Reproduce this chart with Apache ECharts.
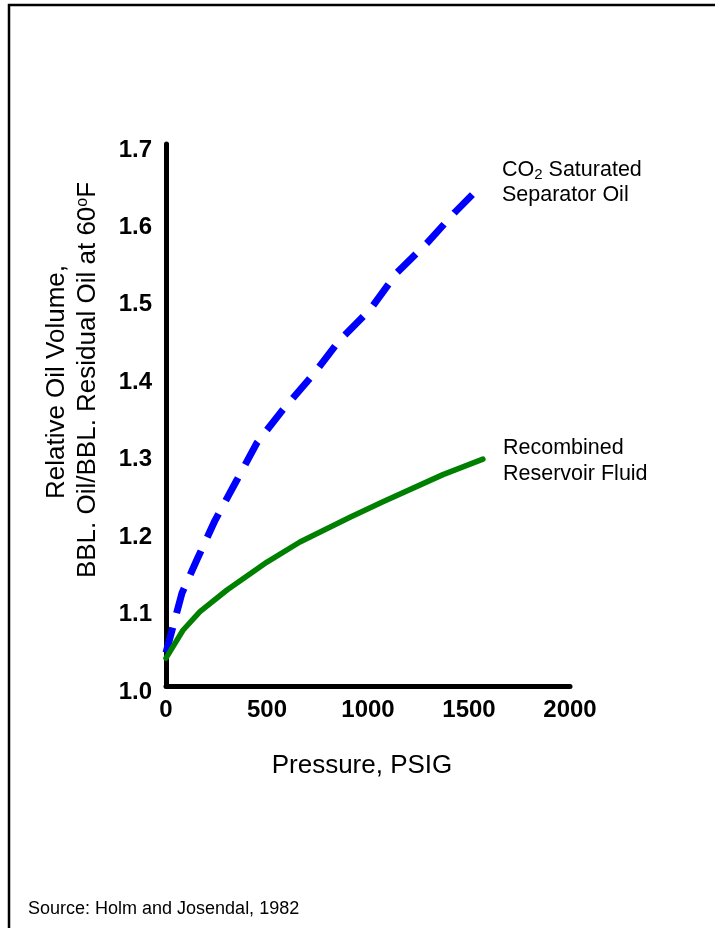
<!DOCTYPE html>
<html>
<head>
<meta charset="utf-8">
<title>Relative Oil Volume vs Pressure</title>
<script src="https://cdn.jsdelivr.net/npm/echarts@6/dist/echarts.min.js"></script>
<style>
  html, body { margin: 0; padding: 0; background: #fff; }
  #chart { width: 715px; height: 928px; }
</style>
</head>
<body>
<div id="chart"></div>
<script>
// values (pressure in psig, relative oil volume)
const co2Pressure = [0, 79, 153, 243, 351, 450, 579, 728, 861, 1010, 1144, 1292, 1431, 1545];
const co2Volume = [1.043, 1.120, 1.163, 1.214, 1.266, 1.314, 1.357, 1.402, 1.447, 1.486, 1.534, 1.572, 1.612, 1.642];

const recPressure = [0, 84, 168, 302, 500, 663, 911, 1074, 1371, 1569];
const recVolume = [1.036, 1.072, 1.096, 1.124, 1.160, 1.186, 1.218, 1.238, 1.273, 1.293];

const xTicks = [0, 500, 1000, 1500, 2000];
const yTicks = [1.0, 1.1, 1.2, 1.3, 1.4, 1.5, 1.6, 1.7];

const FONT = 'Arial, "Liberation Sans", sans-serif';

const chart = echarts.init(document.getElementById('chart'));

const pairs = (xs, ys) => xs.map((x, i) => [x, ys[i]]);

const option = {
  backgroundColor: '#fff',
  animation: false,
  grid: { left: 166, right: 145, top: 144, bottom: 242 },
  xAxis: {
    type: 'value',
    min: xTicks[0],
    max: xTicks[xTicks.length - 1],
    interval: 500,
    axisLine: { onZero: false, lineStyle: { color: '#000', width: 5, cap: 'round' } },
    axisTick: { show: false },
    splitLine: { show: false },
    axisLabel: {
      margin: 12,
      color: '#000',
      fontFamily: FONT,
      fontWeight: 'bold',
      fontSize: 24,
      formatter: (v) => String(v)
    }
  },
  yAxis: {
    type: 'value',
    min: yTicks[0],
    max: yTicks[yTicks.length - 1],
    interval: 0.1,
    axisLine: { show: true, lineStyle: { color: '#000', width: 5, cap: 'round' } },
    axisTick: { show: false },
    splitLine: { show: false },
    axisLabel: {
      margin: 14,
      // labels sit a little below their tick in the original
      verticalAlign: 'top',
      lineHeight: 12,
      color: '#000',
      fontFamily: FONT,
      fontWeight: 'bold',
      fontSize: 24,
      formatter: (v) => v.toFixed(1)
    }
  },
  series: [
    {
      name: 'CO2 Saturated Separator Oil',
      type: 'line',
      data: pairs(co2Pressure, co2Volume),
      showSymbol: false,
      lineStyle: { color: '#0000ff', width: 7, type: [26, 15], cap: 'butt' },
      z: 3
    },
    {
      name: 'Recombined Reservoir Fluid',
      type: 'line',
      data: pairs(recPressure, recVolume),
      showSymbol: false,
      lineStyle: { color: '#008000', width: 5.5, cap: 'round', join: 'round' },
      z: 4
    }
  ],
  graphic: [
    // frame
    {
      type: 'rect',
      shape: { x: 9, y: 5, width: 730, height: 950 },
      style: { fill: 'none', stroke: '#000', lineWidth: 2.5 },
      silent: true
    },
    // y title, two lines
    {
      type: 'text',
      x: 57, y: 382,
      rotation: Math.PI / 2,
      style: {
        text: 'Relative Oil Volume,',
        fill: '#000',
        font: '26px ' + FONT,
        align: 'center',
        verticalAlign: 'middle'
      }
    },
    {
      type: 'text',
      x: 88, y: 380,
      rotation: Math.PI / 2,
      style: {
        text: 'BBL. Oil/BBL. Residual Oil at 60{sup|o}F',
        fill: '#000',
        font: '26px ' + FONT,
        align: 'center',
        verticalAlign: 'middle',
        rich: {
          sup: { fontSize: 16, fontFamily: FONT, verticalAlign: 'top', padding: [0, 0, 10, 0] }
        }
      }
    },
    // x title
    {
      type: 'text',
      x: 362, y: 766,
      style: {
        text: 'Pressure, PSIG',
        fill: '#000',
        font: '26px ' + FONT,
        align: 'center',
        verticalAlign: 'middle'
      }
    },
    // curve labels
    {
      type: 'text',
      x: 502, y: 170,
      style: {
        text: 'CO{sub|2} Saturated',
        fill: '#000',
        font: '21.5px ' + FONT,
        align: 'left',
        verticalAlign: 'middle',
        rich: {
          sub: { fontSize: 15, fontFamily: FONT, padding: [10, 0, 0, 0] }
        }
      }
    },
    {
      type: 'text',
      x: 502, y: 195,
      style: { text: 'Separator Oil', fill: '#000', font: '21.5px ' + FONT, align: 'left', verticalAlign: 'middle' }
    },
    {
      type: 'text',
      x: 503, y: 448,
      style: { text: 'Recombined', fill: '#000', font: '21.5px ' + FONT, align: 'left', verticalAlign: 'middle' }
    },
    {
      type: 'text',
      x: 503, y: 474,
      style: { text: 'Reservoir Fluid', fill: '#000', font: '21.5px ' + FONT, align: 'left', verticalAlign: 'middle' }
    },
    // source note
    {
      type: 'text',
      x: 28, y: 909,
      style: { text: 'Source: Holm and Josendal, 1982', fill: '#000', font: '18px ' + FONT, align: 'left', verticalAlign: 'middle' }
    }
  ]
};

chart.setOption(option);
</script>
</body>
</html>
